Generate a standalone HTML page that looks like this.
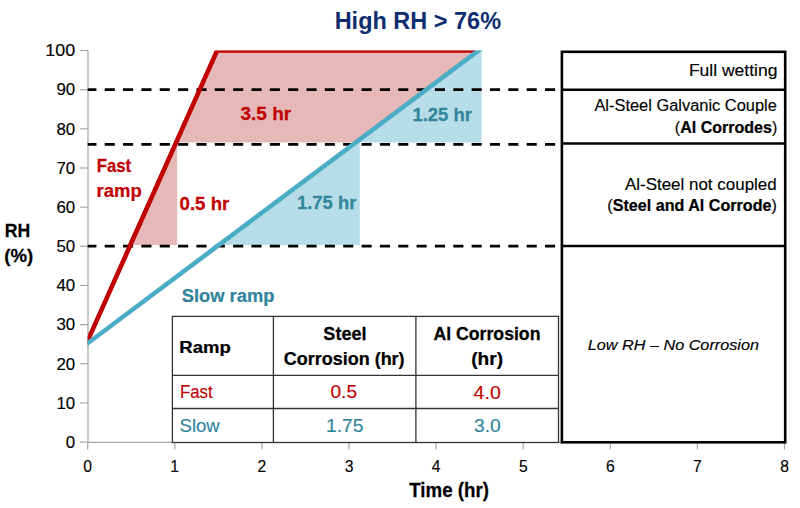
<!DOCTYPE html>
<html><head><meta charset="utf-8"><style>
html,body{margin:0;padding:0;background:#fff;width:800px;height:508px;overflow:hidden}
svg{display:block}
text{font-family:"Liberation Sans",sans-serif}
text[font-weight="bold"]{stroke:currentColor;stroke-width:0.25px}
text[font-weight="normal"]{stroke:currentColor;stroke-width:0.15px}
</style></head><body>
<svg width="800" height="508" viewBox="0 0 800 508">
<rect width="800" height="508" fill="#fff"/>
<polygon points="127.5,244.9 217.2,50.4 480,50.4 357,142.6 177.2,142.6 177.2,244.9" fill="#e6b9b8"/>
<polygon points="217.5,244.9 481.6,50.4 481.6,142.6 359.8,142.6 359.8,244.9" fill="#b7dee8"/>
<g stroke="#a6a6a6" stroke-width="1.2" fill="none">
<line x1="88" y1="50.4" x2="88" y2="442.4"/>
<line x1="88" y1="442.4" x2="785" y2="442.4"/>
<line x1="80" y1="442.10" x2="88" y2="442.10"/>
<line x1="80" y1="402.94" x2="88" y2="402.94"/>
<line x1="80" y1="363.78" x2="88" y2="363.78"/>
<line x1="80" y1="324.62" x2="88" y2="324.62"/>
<line x1="80" y1="285.46" x2="88" y2="285.46"/>
<line x1="80" y1="246.30" x2="88" y2="246.30"/>
<line x1="80" y1="207.14" x2="88" y2="207.14"/>
<line x1="80" y1="167.98" x2="88" y2="167.98"/>
<line x1="80" y1="128.82" x2="88" y2="128.82"/>
<line x1="80" y1="89.66" x2="88" y2="89.66"/>
<line x1="80" y1="50.50" x2="88" y2="50.50"/>
<line x1="87.70" y1="442.4" x2="87.70" y2="449.5"/>
<line x1="174.80" y1="442.4" x2="174.80" y2="449.5"/>
<line x1="261.90" y1="442.4" x2="261.90" y2="449.5"/>
<line x1="349.00" y1="442.4" x2="349.00" y2="449.5"/>
<line x1="436.10" y1="442.4" x2="436.10" y2="449.5"/>
<line x1="523.20" y1="442.4" x2="523.20" y2="449.5"/>
<line x1="610.30" y1="442.4" x2="610.30" y2="449.5"/>
<line x1="697.40" y1="442.4" x2="697.40" y2="449.5"/>
<line x1="784.50" y1="442.4" x2="784.50" y2="449.5"/>
</g>
<g stroke="#000" stroke-width="2.7" stroke-dasharray="10.1 8.246" stroke-dashoffset="1.35" fill="none">
<line x1="87.7" y1="89.6" x2="561" y2="89.6"/>
<line x1="87.7" y1="144.3" x2="561" y2="144.3"/>
<line x1="87.7" y1="246.2" x2="561" y2="246.2"/>
</g>
<defs><clipPath id="pc"><rect x="87.6" y="50.4" width="720" height="460"/></clipPath></defs>
<g clip-path="url(#pc)" fill="none" stroke-linejoin="miter" stroke-width="4.6">
<polyline points="86.5,343.4 217.2,50.4 476,50.4" stroke="#c00000"/>
<polyline points="86,344.5 481.3,48.5" stroke="#4bacc6"/>
</g>
<g stroke="#000" stroke-width="2.6" fill="none">
<rect x="561.9" y="51.8" width="223.3" height="390.5"/>
<line x1="561.9" y1="89.8" x2="785.2" y2="89.8"/>
<line x1="561.9" y1="143.5" x2="785.2" y2="143.5"/>
<line x1="561.9" y1="246.0" x2="785.2" y2="246.0"/>
</g>
<g fill="#fff" stroke="#333" stroke-width="1.3">
<rect x="172.4" y="316.4" width="386.1" height="126.1"/>
</g><g stroke="#333" stroke-width="1.3" fill="none">
<line x1="273.4" y1="316.4" x2="273.4" y2="442.5"/>
<line x1="415.9" y1="316.4" x2="415.9" y2="442.5"/>
<line x1="172.4" y1="375.4" x2="558.5" y2="375.4"/>
<line x1="172.4" y1="408.5" x2="558.5" y2="408.5"/>
</g>
<text style="stroke:none" transform="translate(334.66,28.50) scale(0.9534,1)" font-size="24.64" font-weight="bold" font-style="normal" fill="#0f2e70" color="#0f2e70">High RH &gt; 76%</text>
<text transform="translate(65.71,447.90) scale(1.0000,1)" font-size="16.90" font-weight="normal" font-style="normal" fill="#000" color="#000">0</text>
<text transform="translate(56.42,408.74) scale(1.0000,1)" font-size="16.90" font-weight="normal" font-style="normal" fill="#000" color="#000">10</text>
<text transform="translate(56.42,369.58) scale(1.0000,1)" font-size="16.90" font-weight="normal" font-style="normal" fill="#000" color="#000">20</text>
<text transform="translate(56.42,330.42) scale(1.0000,1)" font-size="16.90" font-weight="normal" font-style="normal" fill="#000" color="#000">30</text>
<text transform="translate(56.42,291.26) scale(1.0000,1)" font-size="16.90" font-weight="normal" font-style="normal" fill="#000" color="#000">40</text>
<text transform="translate(56.42,252.10) scale(1.0000,1)" font-size="16.90" font-weight="normal" font-style="normal" fill="#000" color="#000">50</text>
<text transform="translate(56.42,212.94) scale(1.0000,1)" font-size="16.90" font-weight="normal" font-style="normal" fill="#000" color="#000">60</text>
<text transform="translate(56.42,173.78) scale(1.0000,1)" font-size="16.90" font-weight="normal" font-style="normal" fill="#000" color="#000">70</text>
<text transform="translate(56.42,134.62) scale(1.0000,1)" font-size="16.90" font-weight="normal" font-style="normal" fill="#000" color="#000">80</text>
<text transform="translate(56.42,95.46) scale(1.0000,1)" font-size="16.90" font-weight="normal" font-style="normal" fill="#000" color="#000">90</text>
<text transform="translate(45.30,56.30) scale(1.0600,1)" font-size="16.90" font-weight="normal" font-style="normal" fill="#000" color="#000">100</text>
<text transform="translate(83.30,471.60) scale(0.9300,1)" font-size="16.90" font-weight="normal" font-style="normal" fill="#000" color="#000">0</text>
<text transform="translate(170.16,471.60) scale(0.9300,1)" font-size="16.90" font-weight="normal" font-style="normal" fill="#000" color="#000">1</text>
<text transform="translate(257.50,471.60) scale(0.9300,1)" font-size="16.90" font-weight="normal" font-style="normal" fill="#000" color="#000">2</text>
<text transform="translate(344.68,471.60) scale(0.9300,1)" font-size="16.90" font-weight="normal" font-style="normal" fill="#000" color="#000">3</text>
<text transform="translate(431.78,471.60) scale(0.9300,1)" font-size="16.90" font-weight="normal" font-style="normal" fill="#000" color="#000">4</text>
<text transform="translate(518.88,471.60) scale(0.9300,1)" font-size="16.90" font-weight="normal" font-style="normal" fill="#000" color="#000">5</text>
<text transform="translate(605.90,471.60) scale(0.9300,1)" font-size="16.90" font-weight="normal" font-style="normal" fill="#000" color="#000">6</text>
<text transform="translate(693.00,471.60) scale(0.9300,1)" font-size="16.90" font-weight="normal" font-style="normal" fill="#000" color="#000">7</text>
<text transform="translate(780.18,471.60) scale(0.9300,1)" font-size="16.90" font-weight="normal" font-style="normal" fill="#000" color="#000">8</text>
<text transform="translate(4.67,237.00) scale(0.9506,1)" font-size="18.55" font-weight="bold" font-style="normal" fill="#000" color="#000">RH</text>
<text transform="translate(4.37,262.00) scale(1.0043,1)" font-size="18.55" font-weight="bold" font-style="normal" fill="#000" color="#000">(%)</text>
<text transform="translate(409.21,496.90) scale(0.9369,1)" font-size="20.00" font-weight="bold" font-style="normal" fill="#000" color="#000">Time (hr)</text>
<text transform="translate(240.52,120.40) scale(1.0062,1)" font-size="18.86" font-weight="bold" font-style="normal" fill="#c00000" color="#c00000">3.5 hr</text>
<text transform="translate(412.39,120.50) scale(0.9966,1)" font-size="18.57" font-weight="bold" font-style="normal" fill="#31859c" color="#31859c">1.25 hr</text>
<text transform="translate(96.73,171.80) scale(0.8960,1)" font-size="18.70" font-weight="bold" font-style="normal" fill="#c00000" color="#c00000">Fast</text>
<text transform="translate(96.61,197.10) scale(0.9971,1)" font-size="18.55" font-weight="bold" font-style="normal" fill="#c00000" color="#c00000">ramp</text>
<text transform="translate(179.50,209.50) scale(0.9981,1)" font-size="18.71" font-weight="bold" font-style="normal" fill="#c00000" color="#c00000">0.5 hr</text>
<text transform="translate(296.89,209.20) scale(1.0166,1)" font-size="18.14" font-weight="bold" font-style="normal" fill="#31859c" color="#31859c">1.75 hr</text>
<text transform="translate(181.75,301.70) scale(0.9796,1)" font-size="18.71" font-weight="bold" font-style="normal" fill="#31859c" color="#31859c">Slow ramp</text>
<text transform="translate(179.30,352.50) scale(1.0728,1)" font-size="17.25" font-weight="bold" font-style="normal" fill="#000" color="#000">Ramp</text>
<text transform="translate(323.36,340.00) scale(1.0206,1)" font-size="17.71" font-weight="bold" font-style="normal" fill="#000" color="#000">Steel</text>
<text transform="translate(283.78,364.80) scale(0.9689,1)" font-size="18.57" font-weight="bold" font-style="normal" fill="#000" color="#000">Corrosion (hr)</text>
<text transform="translate(433.47,339.90) scale(1.0064,1)" font-size="17.57" font-weight="bold" font-style="normal" fill="#000" color="#000">Al Corrosion</text>
<text transform="translate(471.24,364.50) scale(1.0633,1)" font-size="18.00" font-weight="bold" font-style="normal" fill="#000" color="#000">(hr)</text>
<text transform="translate(179.95,398.30) scale(0.8796,1)" font-size="19.13" font-weight="normal" font-style="normal" fill="#c00000" color="#c00000">Fast</text>
<text transform="translate(330.49,398.00) scale(0.9895,1)" font-size="19.29" font-weight="normal" font-style="normal" fill="#c00000" color="#c00000">0.5</text>
<text transform="translate(473.61,398.60) scale(1.0446,1)" font-size="18.71" font-weight="normal" font-style="normal" fill="#c00000" color="#c00000">4.0</text>
<text transform="translate(179.58,431.60) scale(1.0112,1)" font-size="18.29" font-weight="normal" font-style="normal" fill="#31859c" color="#31859c">Slow</text>
<text transform="translate(325.96,431.75) scale(1.0237,1)" font-size="18.79" font-weight="normal" font-style="normal" fill="#31859c" color="#31859c">1.75</text>
<text transform="translate(473.98,432.00) scale(1.0379,1)" font-size="18.57" font-weight="normal" font-style="normal" fill="#31859c" color="#31859c">3.0</text>
<text transform="translate(688.90,75.90) scale(1.0987,1)" font-size="15.94" font-weight="normal" font-style="normal" fill="#000" color="#000">Full wetting</text>
<text transform="translate(594.40,111.40) scale(0.9608,1)" font-size="17.10" font-weight="normal" font-style="normal" fill="#000" color="#000">Al-Steel Galvanic Couple</text>
<text transform="translate(624.90,190.00) scale(0.9760,1)" font-size="17.39" font-weight="normal" font-style="normal" fill="#000" color="#000">Al-Steel not coupled</text>
<text transform="translate(587.81,350.20) scale(1.0448,1)" font-size="15.51" font-weight="normal" font-style="italic" fill="#000" color="#000">Low RH – No Corrosion</text>
<text transform="translate(674.84,133.20) scale(0.9378,1)" font-size="17.10" font-weight="normal" fill="#000" color="#000">(</text>
<text transform="translate(680.18,133.20) scale(0.9378,1)" font-size="17.10" font-weight="bold" fill="#000" color="#000">Al Corrodes</text>
<text transform="translate(771.97,133.20) scale(0.9378,1)" font-size="17.10" font-weight="normal" fill="#000" color="#000">)</text>
<text transform="translate(607.33,211.30) scale(0.9342,1)" font-size="17.25" font-weight="normal" fill="#000" color="#000">(</text>
<text transform="translate(612.70,211.30) scale(0.9342,1)" font-size="17.25" font-weight="bold" fill="#000" color="#000">Steel and Al Corrode</text>
<text transform="translate(771.45,211.30) scale(0.9342,1)" font-size="17.25" font-weight="normal" fill="#000" color="#000">)</text>
</svg>
</body></html>
